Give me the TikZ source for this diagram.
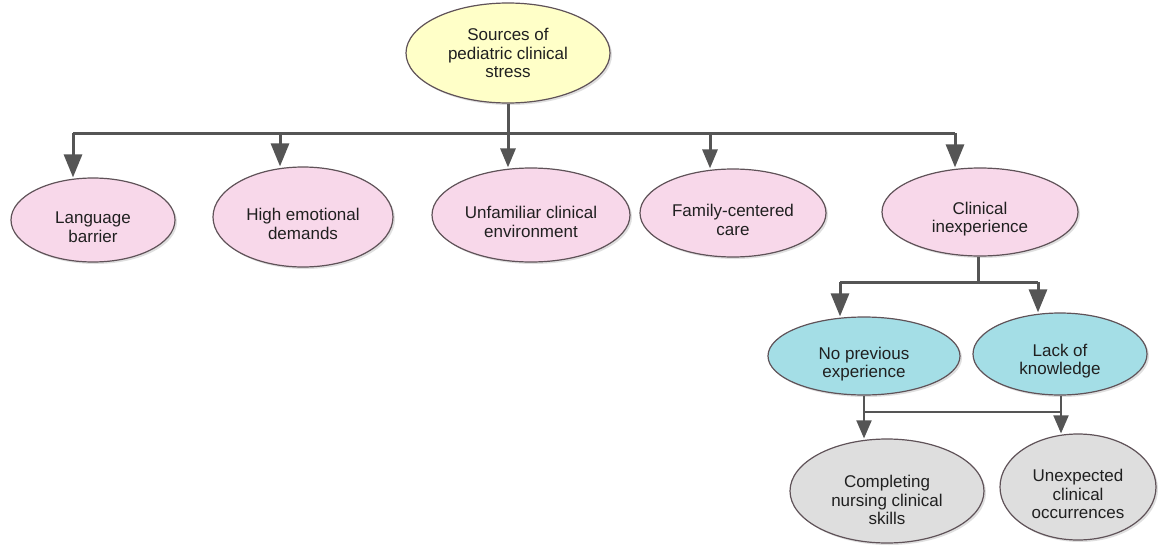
\documentclass[tikz,border=0pt]{standalone}
\usepackage{fontspec}
\setmainfont{Liberation Sans}
\usetikzlibrary{shapes.geometric,arrows.meta,shadows}

\definecolor{ylwfill}{RGB}{255,255,200}
\definecolor{pinkfill}{RGB}{248,216,234}
\definecolor{cyanfill}{RGB}{164,222,230}
\definecolor{greyfill}{RGB}{222,222,222}
\definecolor{rim}{RGB}{95,82,88}
\definecolor{wire}{RGB}{85,85,85}
\definecolor{ink}{RGB}{32,32,32}

\tikzset{
  bubble/.style={ellipse, draw=rim, line width=1.2pt, inner sep=0pt,
    drop shadow={shadow xshift=2pt, shadow yshift=-2pt, fill=black!25}},
  caption/.style={align=center, text=ink, inner sep=0pt,
    font=\fontsize{17}{18.5}\selectfont},
  trunk/.style={draw=wire, line width=3pt},
  twig/.style={draw=wire, line width=2pt},
  bigtip/.style={-{Triangle[length=23pt,width=18pt]}},
  midtip/.style={-{Triangle[length=19pt,width=15pt]}},
  smalltip/.style={-{Triangle[length=18pt,width=15pt]}},
}

\begin{document}
\begin{tikzpicture}[x=1pt,y=-1pt]
\useasboundingbox (0,0) rectangle (1159,546);

% root
\node[bubble, fill=ylwfill, minimum width=204pt, minimum height=100pt] (src) at (508,53) {};
\node[caption] (src-t) at (src.center) {Sources of\\pediatric clinical\\stress};

% first level
\node[bubble, fill=pinkfill, minimum width=164pt, minimum height=84pt] (lang) at (93,220) {};
\node[caption, yshift=-7pt] (lang-t) at (lang.center) {Language\\barrier};
\node[bubble, fill=pinkfill, minimum width=180pt, minimum height=100pt] (high) at (303,217) {};
\node[caption, yshift=-7pt] (high-t) at (high.center) {High emotional\\demands};
\node[bubble, fill=pinkfill, minimum width=198pt, minimum height=94pt] (unf) at (531,215) {};
\node[caption, yshift=-7pt] (unf-t) at (unf.center) {Unfamiliar clinical\\environment};
\node[bubble, fill=pinkfill, minimum width=186pt, minimum height=88pt] (fam) at (733,213) {};
\node[caption, yshift=-7pt] (fam-t) at (fam.center) {Family-centered\\care};
\node[bubble, fill=pinkfill, minimum width=196pt, minimum height=88pt] (clin) at (980,212) {};
\node[caption, yshift=-7pt] (clin-t) at (clin.center) {Clinical\\inexperience};

% second level
\node[bubble, fill=cyanfill, minimum width=192pt, minimum height=78pt] (noprev) at (864,356) {};
\node[caption, yshift=-8pt] (noprev-t) at (noprev.center) {No previous\\experience};
\node[bubble, fill=cyanfill, minimum width=174pt, minimum height=82pt] (lack) at (1060,354) {};
\node[caption, yshift=-7pt] (lack-t) at (lack.center) {Lack of\\knowledge};

% third level
\node[bubble, fill=greyfill, minimum width=194pt, minimum height=104pt] (comp) at (887,491) {};
\node[caption, yshift=-9pt] (comp-t) at (comp.center) {Completing\\nursing clinical\\skills};
\node[bubble, fill=greyfill, minimum width=156pt, minimum height=106pt] (unexp) at (1078,487) {};
\node[caption, yshift=-7pt] (unexp-t) at (unexp.center) {Unexpected\\clinical\\occurrences};

% junction points
\coordinate (j0) at (508,133);
\coordinate (jL) at (73,133);
\coordinate (jR) at (955,133);
\coordinate (jH) at (280,133);
\coordinate (jU) at (508,133);
\coordinate (jF) at (710,133);
\coordinate (k0) at (978,282);
\coordinate (kL) at (840,282);
\coordinate (kR) at (1038,282);
\coordinate (m1) at (864,412);
\coordinate (m2) at (1061,412);

% root to first level
\draw[trunk] (src.south) -- (j0);
\draw[trunk] (jL) -- (jR);
\draw[trunk, bigtip] (jL) -- (lang.north -| jL);
\draw[trunk, bigtip] (jH) -- (high.north -| jH);
\draw[trunk, midtip] (jU) -- (unf.north -| jU);
\draw[trunk, midtip] (jF) -- (fam.north -| jF);
\draw[trunk, bigtip] (jR) -- (clin.north -| jR);

% clinical inexperience to second level
\draw[trunk] (clin.south -| k0) -- (k0);
\draw[trunk] (kL) -- (kR);
\draw[trunk, bigtip] (kL) -- (noprev.north -| kL);
\draw[trunk, bigtip] (kR) -- (lack.north -| kR);

% second level to third level
\draw[twig, smalltip] (noprev.south) -- (comp.north -| noprev.south);
\draw[twig, smalltip] (lack.south -| m2) -- (unexp.north -| m2);
\draw[twig] (m1) -- (m2);
\end{tikzpicture}
\end{document}
